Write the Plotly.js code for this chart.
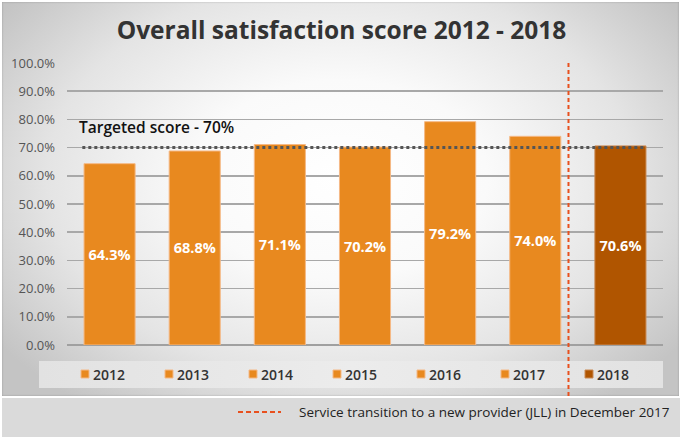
<!DOCTYPE html>
<html>
<head>
<meta charset="utf-8">
<script src="https://cdn.plot.ly/plotly-3.0.1.min.js"></script>
<style>
  html, body { margin: 0; padding: 0; background: #ffffff; }
  #wrap { position: relative; width: 683px; height: 440px; overflow: hidden; }
  #frame { position: absolute; left: 2px; top: 2px; width: 677px; height: 394px;
    background: radial-gradient(ellipse 62% 72% at 50% 45%, #ffffff 0%, #fafafa 35%, #e4e4e4 70%, #c4c4c4 100%);
    box-shadow: inset 0 0 2px rgba(0,0,0,0.25); }
  #band { position: absolute; left: 39px; top: 361px; width: 624px; height: 27px;
    background: linear-gradient(90deg, #e2e2e2 0%, #ececec 50%, #e2e2e2 100%); }
  #footer { position: absolute; left: 2px; top: 398px; width: 678px; height: 39px; background: #dadada; }
  #chart { position: absolute; left: 0; top: 0; width: 683px; height: 440px; }
</style>
</head>
<body>
<div id="wrap">
  <div id="frame"></div>
  <div id="band"></div>
  <div id="footer"></div>
  <div id="chart"></div>
</div>
<script>
// ---- data ----
const years = ["2012", "2013", "2014", "2015", "2016", "2017", "2018"];
const scores = [0.643, 0.688, 0.711, 0.702, 0.792, 0.740, 0.706];
const target = 0.70;
const targetLabel = "Targeted score - 70%";
const chartTitle = "Overall satisfaction score 2012 - 2018";
const footerLabel = "Service transition to a new provider (JLL) in December 2017";
const transitionPos = 5.39; // between 2017 and 2018 (category units)

// ---- styles ----
const orange = "#E8891F", orangeEdge = "#F5B986";
const brown = "#B05500", brownEdge = "#C98A55";
const barColors = years.map(y => y === "2018" ? brown : orange);
const barEdges = years.map(y => y === "2018" ? brownEdge : orangeEdge);
const red = "#E8501E";
const FONT = "'Open Sans', Lato, sans-serif";

const L = 67, R = 20, T = 63, B = 95, W = 683, H = 440;
const pw = W - L - R, ph = H - T - B;
const px = x => (x - L) / pw;          // pixel x -> paper x
const py = y => (H - B - y) / ph;      // pixel y -> paper y

const trace = {
  type: "bar",
  x: years,
  y: scores,
  marker: { color: barColors, line: { color: barEdges, width: 1 } },
  texttemplate: "%{y:.1%}",
  textposition: "inside",
  insidetextanchor: "middle",
  textangle: 0,
  constraintext: "none",
  textfont: { family: FONT, size: 14.5, color: "#ffffff", weight: 700 },
  hoverinfo: "skip"
};

const shapes = [
  { type: "line", xref: "x", yref: "y", x0: -0.32, x1: 6.3, y0: target, y1: target,
    line: { color: "#555555", width: 3, dash: "dot" }, layer: "above" },
  { type: "line", xref: "x", yref: "paper", x0: transitionPos, x1: transitionPos,
    y0: py(396), y1: py(62), line: { color: red, width: 2, dash: "4px,3px" }, layer: "above" },
  { type: "line", xref: "paper", yref: "paper", x0: px(238), x1: px(281), y0: py(412), y1: py(412),
    line: { color: red, width: 2, dash: "5px,3px" } }
];

const annotations = [
  { xref: "paper", yref: "y", x: px(77), y: 0.773, xanchor: "left", yanchor: "middle",
    text: targetLabel, showarrow: false, font: { family: FONT, size: 15.5, color: "#111111", weight: 600 } },
  { xref: "paper", yref: "paper", x: px(297), y: py(412), xanchor: "left", yanchor: "middle",
    text: footerLabel, showarrow: false, font: { family: FONT, size: 13.5, color: "#222222" } }
];

// manual legend
years.forEach((yr, i) => {
  const sx = 81 + i * 84;
  shapes.push({ type: "rect", xref: "paper", yref: "paper",
    x0: px(sx), x1: px(sx + 8), y0: py(378), y1: py(370),
    fillcolor: barColors[i], line: { color: barEdges[i], width: 1 } });
  annotations.push({ xref: "paper", yref: "paper", x: px(sx + 10), y: py(374),
    xanchor: "left", yanchor: "middle", text: yr, showarrow: false,
    font: { family: FONT, size: 14, color: "#333333", weight: 600 } });
});

const layout = {
  width: W, height: H,
  margin: { l: L, r: R, t: T, b: B, pad: 0 },
  paper_bgcolor: "rgba(0,0,0,0)",
  plot_bgcolor: "rgba(0,0,0,0)",
  showlegend: false,
  bargap: 0.4,
  title: { text: chartTitle, x: 0.5, xref: "container", xanchor: "center",
    y: 1 - 30 / H, yref: "container", yanchor: "middle",
    font: { family: FONT, size: 24.5, color: "#333333", weight: 700 } },
  xaxis: { type: "category", range: [-0.5, 6.5], showticklabels: false, showgrid: false,
    zeroline: false, showline: false, fixedrange: true },
  yaxis: { range: [0, 1], dtick: 0.1, tickformat: ".1%", showgrid: true,
    gridcolor: "#a8a8a8", gridwidth: 1.5, zeroline: true, zerolinecolor: "#a0a0a0", zerolinewidth: 1.5,
    showline: false, ticks: "", ticklabelstandoff: 11,
    tickfont: { family: FONT, size: 13, color: "#555555" }, fixedrange: true },
  shapes: shapes,
  annotations: annotations,
  hovermode: false
};

Plotly.newPlot("chart", [trace], layout, { displayModeBar: false, staticPlot: true });
</script>
</body>
</html>
